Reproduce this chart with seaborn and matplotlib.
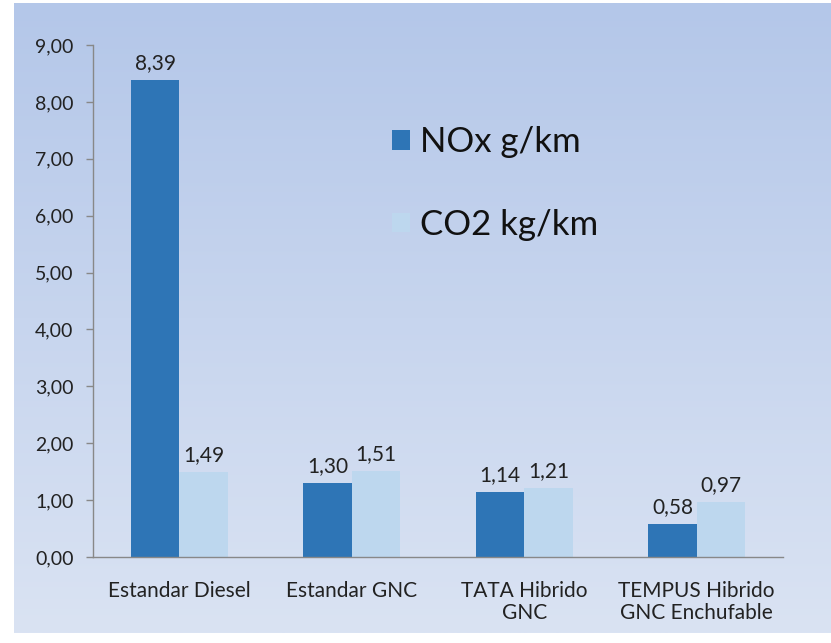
import matplotlib
matplotlib.use("Agg")
import matplotlib.pyplot as plt
import seaborn as sns
import numpy as np
import pandas as pd

categories = ["Estandar Diesel", "Estandar GNC", "TATA Hibrido\nGNC", "TEMPUS Hibrido\nGNC Enchufable"]
nox = [8.39, 1.30, 1.14, 0.58]
co2 = [1.49, 1.51, 1.21, 0.97]
series = ["NOx g/km", "CO2 kg/km"]
yticks = [0, 1, 2, 3, 4, 5, 6, 7, 8, 9]

df = pd.DataFrame({
    "cat": categories * 2,
    "val": nox + co2,
    "serie": [series[0]] * len(categories) + [series[1]] * len(categories),
})

sns.set_style("white")
plt.rcParams["font.family"] = ["Lato", "DejaVu Sans"]

fig = plt.figure(figsize=(8.31, 6.43), dpi=100)
fig.patch.set_facecolor("white")

# gradient background panel
bg = fig.add_axes([14 / 831, 10 / 643, 1 - 14 / 831, 1 - 13 / 643])
grad = np.linspace(0, 1, 256).reshape(-1, 1)
top = np.array([0xb4, 0xc7, 0xe9]) / 255
bot = np.array([0xda, 0xe3, 0xf3]) / 255
img = top[None, None, :] * (1 - grad[:, :, None]) + bot[None, None, :] * grad[:, :, None]
bg.imshow(img, aspect="auto", extent=[0, 1, 0, 1])
bg.axis("off")
bg.set_zorder(0)

ax = fig.add_axes([93 / 831, (643 - 557) / 643, (783 - 93) / 831, (557 - 45) / 643])
ax.set_zorder(1)
ax.patch.set_alpha(0)

palette = {series[0]: "#2E75B6", series[1]: "#BDD7EE"}
sns.barplot(data=df, x="cat", y="val", hue="serie", palette=palette, width=0.56,
            ax=ax, saturation=1, edgecolor="none", linewidth=0)

for cont in ax.containers:
    ax.bar_label(cont, labels=[f"{v:.2f}".replace(".", ",") for v in cont.datavalues],
                 padding=5, fontsize=15, color="#222222")

ax.set_xlim(-0.5, 3.5)
ax.set_ylim(0, 9)
ax.set_yticks(yticks)
ax.set_yticklabels([f"{v:.2f}".replace(".", ",") for v in yticks], fontsize=14, color="#222222")
ax.set_xticks(range(len(categories)))
ax.set_xticklabels(categories, fontsize=15, color="#222222", linespacing=1.15)
ax.set_xticks(np.arange(-0.5, 4.0, 1.0), minor=True)
ax.tick_params(axis="x", which="major", length=0, pad=17)
ax.tick_params(axis="x", which="minor", length=6, color="#888888", width=1, direction="out")
ax.tick_params(axis="y", length=5, color="#888888", width=1, direction="out", left=True, pad=9)
ax.set_xlabel("")
ax.set_ylabel("")
for s in ["top", "right"]:
    ax.spines[s].set_visible(False)
for s in ["left", "bottom"]:
    ax.spines[s].set_color("#888888")
    ax.spines[s].set_linewidth(1)

handles, labels = ax.get_legend_handles_labels()
ax.legend(handles, labels, loc="upper left", bbox_to_anchor=(0.434, 0.841), frameon=False,
          fontsize=25, handlelength=0.5, handleheight=0.5, handletextpad=0.3,
          labelspacing=1.45, labelcolor="#111111", borderpad=0, borderaxespad=0)

fig.savefig("out.png", dpi=100)
